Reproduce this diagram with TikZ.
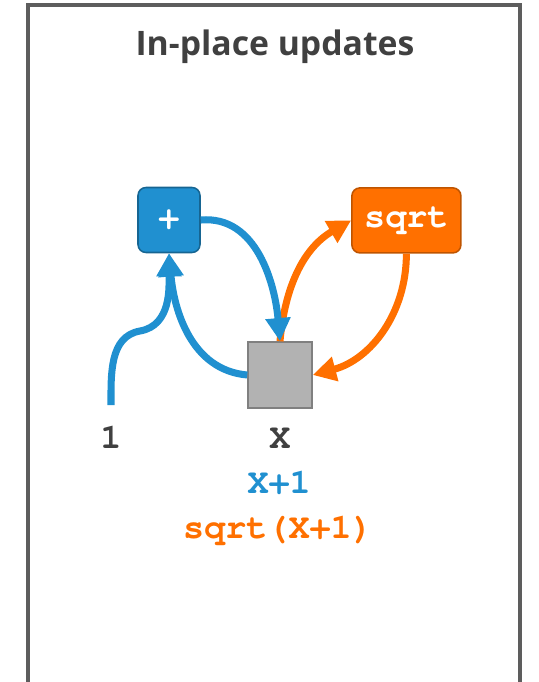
\documentclass[tikz,border=0pt]{standalone}
\usepackage{fontspec}
\setmainfont{Open Sans}
\newfontfamily\codefont{texgyrecursor}[Extension=.otf, UprightFont=*-regular, BoldFont=*-bold]
\usetikzlibrary{arrows.meta}

\definecolor{opblue}{HTML}{2090D0}
\definecolor{oporange}{HTML}{FF7000}
\definecolor{inkgray}{HTML}{404040}

\begin{document}
\begin{tikzpicture}[
    op/.style={rounded corners=0.2cm, minimum height=1.625cm, line width=1.1pt,
      text=white, font=\codefont\bfseries\fontsize{25}{28}\selectfont},
    val/.style={font=\codefont\bfseries\fontsize{25}{28}\selectfont, anchor=base},
    flow/.style={line width=5pt, -{Triangle[length=0.58cm,width=0.6cm]}}
  ]
\useasboundingbox (0,0) rectangle (13.475,-17.05);
% frame, open at the bottom
\draw[line width=2.2pt, color=inkgray!85] (0.7,-17.5) |- (13.0,-0.125) -- (13.0,-17.5);
\node[anchor=base, text=inkgray, font=\bfseries\fontsize{24}{29}\selectfont] (title) at (6.875,-1.375) {In-place updates};

\node[op, fill=opblue, draw=opblue!70!black, minimum width=1.55cm] (plus) at (4.225,-5.5) {+};
\node[op, fill=oporange, draw=oporange!75!black, minimum width=2.725cm] (sqrt) at (10.16,-5.51) {sqrt};
\node[draw=gray, fill=gray!60, line width=1.1pt, minimum width=1.6cm, minimum height=1.65cm] (x) at (7.0,-9.375) {};

\node[val, text=inkgray] (one) at (2.775,-11.2) {1};
\node[val, text=inkgray] (xname) at (7.0,-11.2) {X};
\node[val, text=opblue] (xplus) at (6.98,-12.325) {X+1};
\node[val, text=oporange] (xsqrt) at (6.95,-13.45) {sqrt(X+1)};
\coordinate (onetop) at (2.775,-10.125);

% sqrt round trip
\draw[flow, oporange] (x.north) to[out=85,in=210] (sqrt.west);
\draw[flow, oporange] (sqrt.south) to[out=-90,in=15] (x.east);
% + round trip
\draw[flow, opblue] (onetop) to[out=90,in=190] (3.5,-8.275) to[out=10,in=-90] (plus.south);
\draw[flow, opblue] (x.west) to[out=175,in=-85] (plus.south);
\draw[flow, opblue] (plus.east) to[out=5,in=95] (x.north);
\end{tikzpicture}
\end{document}
